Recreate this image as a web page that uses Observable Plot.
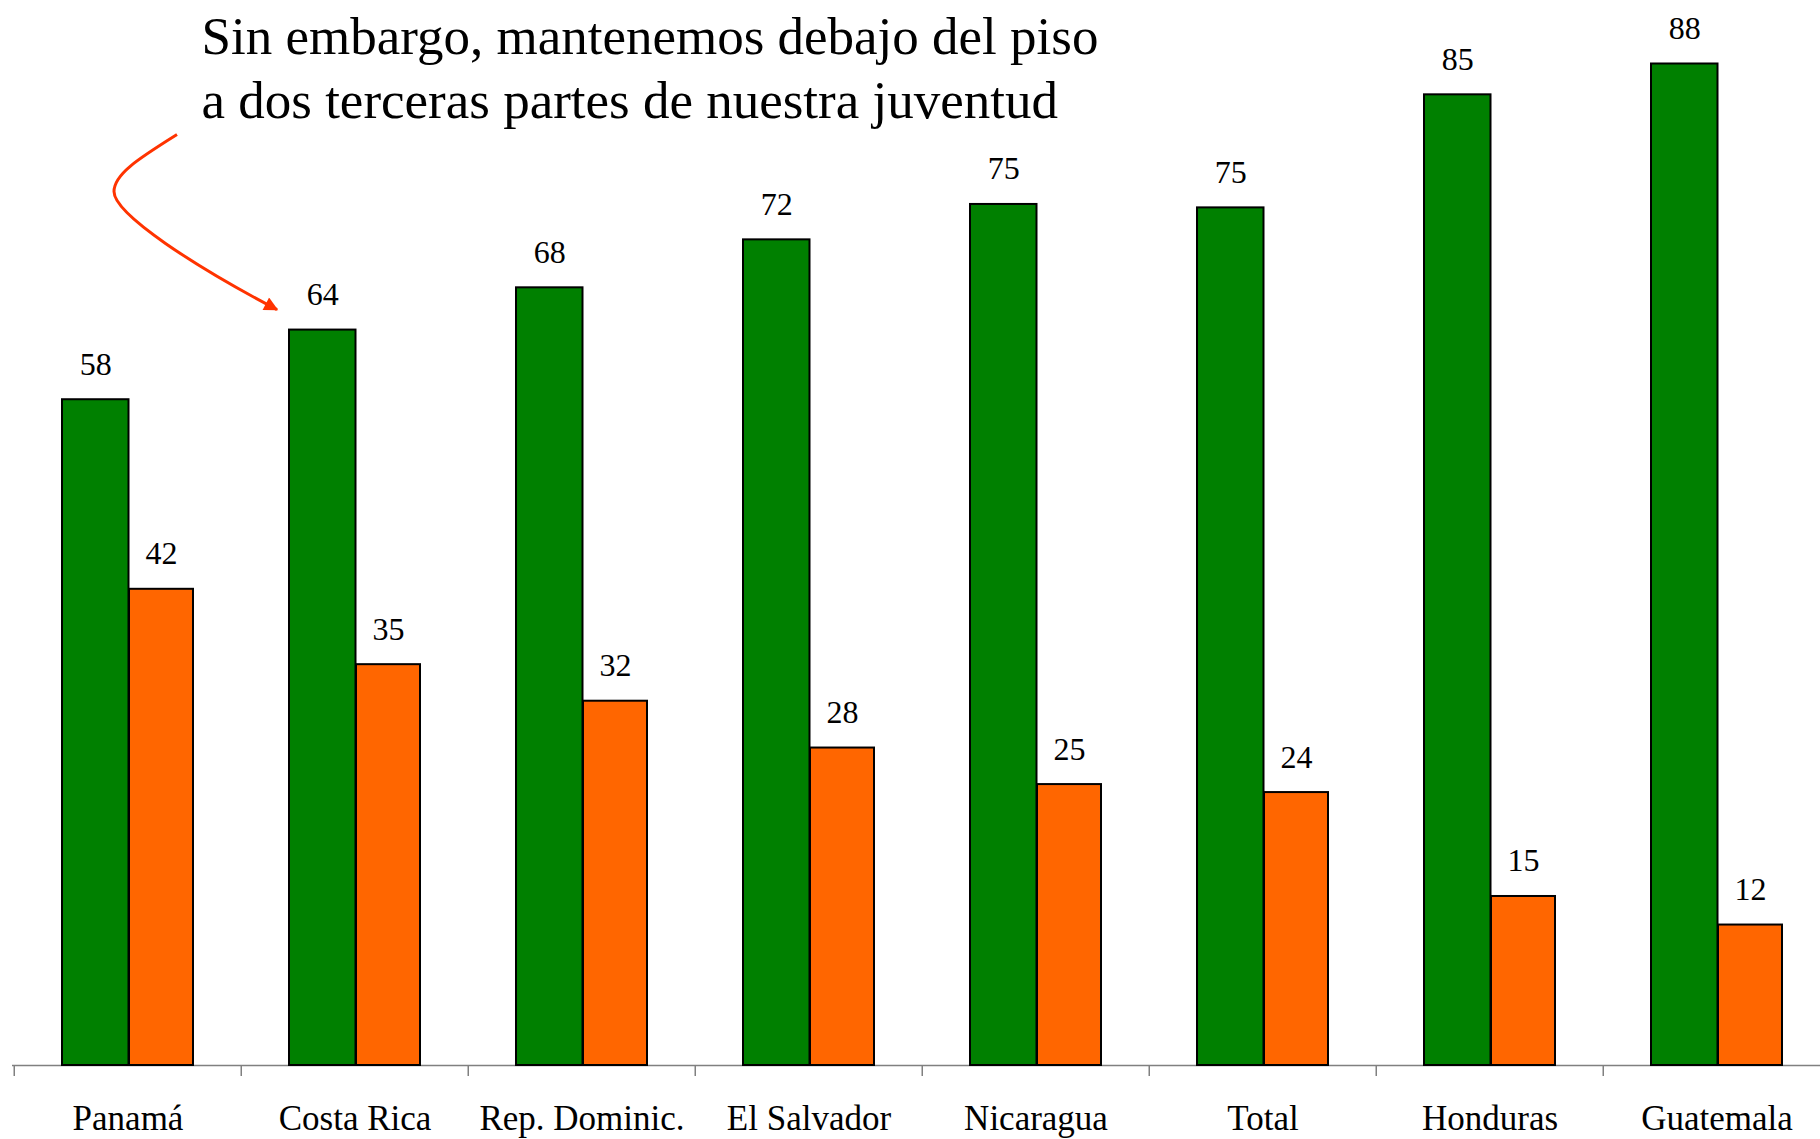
<!DOCTYPE html>
<html>
<head>
<meta charset="utf-8">
<script src="https://cdn.jsdelivr.net/npm/d3@7"></script>
<script src="https://cdn.jsdelivr.net/npm/@observablehq/plot@0.6"></script>
<style>
  html, body { margin: 0; padding: 0; background: #ffffff; }
  #chart { width: 1820px; height: 1139px; overflow: hidden; }
</style>
</head>
<body>
<div id="chart"></div>
<script>
// ---- data ----
const categories = ["Panamá", "Costa Rica", "Rep. Dominic.", "El Salvador", "Nicaragua", "Total", "Honduras", "Guatemala"];
const belowFloor = [58.3, 64.4, 68.1, 72.3, 75.4, 75.1, 85.0, 87.7];   // green
const aboveFloor = [41.7, 35.1, 31.9, 27.8, 24.6, 23.9, 14.8, 12.3];   // orange
const titleLines = ["Sin embargo, mantenemos debajo del piso", "a dos terceras partes de nuestra juventud"];

const rows = categories.map((c, i) => ({country: c, green: belowFloor[i], orange: aboveFloor[i]}));

// ---- layout ----
const W = 1820, H = 1139;
const x0 = 11.6, step = 227.5;
const font = "'Liberation Serif', 'Times New Roman', Times, serif";
const greenCol = "#008000", orangeCol = "#FF6600", axisCol = "#808080";
const gL = 48, split = 115, oR = 179.5; // offsets inside each band
const half = step / 2;

const plot = Plot.plot({
  width: W,
  height: H,
  marginTop: 0,
  marginBottom: 74,
  marginLeft: 12,
  marginRight: 0,
  style: {fontFamily: font, background: "#ffffff", color: "#000000", overflow: "visible"},
  x: {domain: categories, range: [x0, x0 + step * categories.length], padding: 0},
  y: {domain: [0, 93.26], axis: null},
  marks: [
    Plot.ruleY([0], {stroke: axisCol, strokeWidth: 1.5}),
    Plot.axisX({tickSize: 11, tickFormat: () => "", stroke: axisCol, strokeWidth: 1.5, dx: -half, label: null, tickPadding: 0}),
    Plot.barY(rows, {x: "country", y: "green", fill: greenCol, stroke: "#000000", strokeWidth: 2,
      insetLeft: gL, insetRight: step - split}),
    Plot.barY(rows, {x: "country", y: "orange", fill: orangeCol, stroke: "#000000", strokeWidth: 2,
      insetLeft: split, insetRight: step - oR}),
    Plot.text(rows, {x: "country", y: "green", text: d => String(Math.round(d.green)),
      dx: (gL + split) / 2 - half, dy: -25, lineAnchor: "bottom", fontSize: 32, fill: "#000000", fontFamily: font}),
    Plot.text(rows, {x: "country", y: "orange", text: d => String(Math.round(d.orange)),
      dx: (split + oR) / 2 - half, dy: -25, lineAnchor: "bottom", fontSize: 32, fill: "#000000", fontFamily: font}),
    Plot.text(categories, {x: d => d, frameAnchor: "bottom", dy: 64, lineAnchor: "bottom",
      fontSize: 35, fill: "#000000", fontFamily: font}),
    Plot.text([titleLines.join("\n")], {frameAnchor: "top-left", dx: 189, dy: 8.5, lineAnchor: "top",
      textAnchor: "start", fontSize: 53, lineHeight: 1.208, fill: "#000000", fontFamily: font})
  ]
});

document.getElementById("chart").appendChild(plot);

// ---- annotation arrow, anchored to the Costa Rica bar via the scales ----
const svg = d3.select(plot.tagName.toLowerCase() === "svg" ? plot : plot.querySelector("svg"));
const xs = plot.scale("x"), ys = plot.scale("y");
const ex = xs.apply("Costa Rica") + 36;
const ey = ys.apply(belowFloor[1]) - 20;
const arrowCol = "#FF3300";
const defs = svg.append("defs");
defs.append("marker")
  .attr("id", "arrowhead")
  .attr("viewBox", "0 0 10 10")
  .attr("refX", 9).attr("refY", 5)
  .attr("markerUnits", "userSpaceOnUse")
  .attr("markerWidth", 22).attr("markerHeight", 14)
  .attr("orient", "auto")
  .append("path").attr("d", "M0,0L10,5L0,10Z").attr("fill", arrowCol);
const p = (dx, dy) => `${ex + dx},${ey + dy}`;
svg.append("path")
  .attr("d", `M${p(-100, -175)}C${p(-140, -150)} ${p(-163, -135)} ${p(-163, -118)}C${p(-163, -95)} ${p(-80, -42)} ${p(0, 0)}`)
  .attr("fill", "none")
  .attr("stroke", arrowCol)
  .attr("stroke-width", 3)
  .attr("marker-end", "url(#arrowhead)");
</script>
</body>
</html>
